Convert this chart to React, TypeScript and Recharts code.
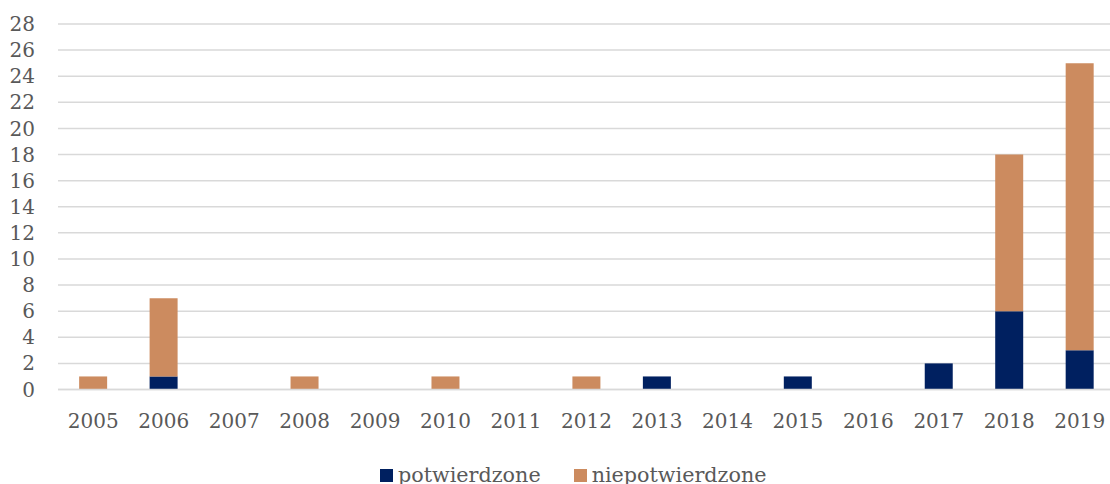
import { BarChart, Bar, XAxis, YAxis, CartesianGrid } from 'recharts';

const years = ['2005', '2006', '2007', '2008', '2009', '2010', '2011', '2012', '2013', '2014', '2015', '2016', '2017', '2018', '2019'];
const potwierdzone = [0, 1, 0, 0, 0, 0, 0, 0, 1, 0, 1, 0, 2, 6, 3];
const niepotwierdzone = [1, 6, 0, 1, 0, 1, 0, 1, 0, 0, 0, 0, 0, 12, 22];
const yTicks = [0, 2, 4, 6, 8, 10, 12, 14, 16, 18, 20, 22, 24, 26, 28];

const seriesNames = ['potwierdzone', 'niepotwierdzone'];
const colors = ['#002060', '#cc8b5f'];

const FONT = '"DejaVu Serif", serif';
const TEXT = '#595959';

export default function App() {
  const data = years.map((y, i) => ({
    year: y,
    potwierdzone: potwierdzone[i],
    niepotwierdzone: niepotwierdzone[i],
  }));

  return (
    <div style={{ position: 'absolute', left: 0, top: 0, width: 1110, height: 484, overflow: 'hidden', background: '#fff' }}>
      <BarChart
        width={1116}
        height={484}
        data={data}
        margin={{ top: 24, right: 1, left: 0, bottom: 0 }}
        barCategoryGap="30%"
      >
        <CartesianGrid vertical={false} stroke="#d9d9d9" strokeWidth={1.5} />
        <XAxis
          dataKey="year"
          height={94.5}
          axisLine={{ stroke: '#d9d9d9', strokeWidth: 1.5 }}
          tickLine={false}
          tickSize={0}
          tickMargin={24}
          tick={{ fill: TEXT, fontSize: 20, fontFamily: FONT }}
          interval={0}
        />
        <YAxis
          width={58}
          domain={[0, 28]}
          ticks={yTicks}
          axisLine={false}
          tickLine={false}
          tickSize={0}
          tickMargin={23}
          tick={{ fill: TEXT, fontSize: 20, fontFamily: FONT }}
          interval={0}
        />
        <Bar dataKey="potwierdzone" stackId="a" fill={colors[0]} isAnimationActive={false} />
        <Bar dataKey="niepotwierdzone" stackId="a" fill={colors[1]} isAnimationActive={false} />
      </BarChart>
      <div
        style={{
          position: 'absolute',
          left: 380,
          top: 464,
          display: 'flex',
          alignItems: 'center',
          fontFamily: FONT,
          fontSize: 20.7,
          color: TEXT,
          lineHeight: '22px',
        }}
      >
        {seriesNames.map((n, i) => (
          <div key={n} style={{ display: 'flex', alignItems: 'center', marginRight: i === 0 ? 33 : 0 }}>
            <span style={{ width: 13, height: 13, background: colors[i], marginRight: 5, display: 'inline-block' }} />
            <span>{n}</span>
          </div>
        ))}
      </div>
    </div>
  );
}
